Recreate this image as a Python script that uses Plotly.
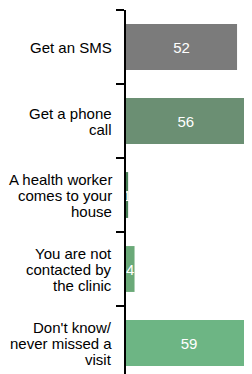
import plotly.graph_objects as go

categories = [
    "Get an SMS",
    "Get a phone call",
    "A health worker comes to your house",
    "You are not contacted by the clinic",
    "Don't know/ never missed a visit",
]
label_lines = [
    ["Get an SMS"],
    ["Get a phone", "call"],
    ["A health worker", "comes to your", "house"],
    ["You are not", "contacted by", "the clinic"],
    ["Don't know/", "never missed a", "visit"],
]
values = [52, 56, 1, 4, 59]
colors = ["#7b7b7b", "#6b8f73", "#4a8058", "#6aa978", "#6db584"]

FONT = "Liberation Sans, Arial, sans-serif"

fig = go.Figure(
    go.Bar(
        y=categories,
        x=values,
        orientation="h",
        marker=dict(color=colors, line=dict(width=0)),
        width=0.62,
        text=[str(v) for v in values],
        textposition="inside",
        insidetextanchor="middle",
        textangle=0,
        textfont=dict(color="white", size=15, family=FONT),
        cliponaxis=True,
    )
)

annotations = []
for cat, lines in zip(categories, label_lines):
    n = len(lines)
    for j, line in enumerate(lines):
        annotations.append(
            dict(
                text=line,
                xref="paper",
                x=0,
                xanchor="right",
                xshift=-12,
                yref="y",
                y=cat,
                yanchor="middle",
                yshift=((n - 1) / 2 - j) * 16,
                showarrow=False,
                font=dict(size=15, color="#000000", family=FONT),
            )
        )

# page body has an 8px margin, so the figure is sized to end at the window edge
plot_h = 364
band = 74
fig.update_layout(
    width=244,
    height=366,
    margin=dict(l=118, r=0, t=2, b=0),
    paper_bgcolor="white",
    plot_bgcolor="white",
    showlegend=False,
    annotations=annotations,
    uniformtext=dict(mode="show", minsize=15),
    font=dict(family=FONT),
)
fig.update_xaxes(visible=False, range=[0, 59])
fig.update_yaxes(
    type="category",
    categoryorder="array",
    categoryarray=categories,
    range=[-0.5 + plot_h / band, -0.5],
    showline=True,
    linecolor="black",
    linewidth=2,
    ticks="outside",
    tickson="boundaries",
    ticklen=8,
    tickwidth=2,
    tickcolor="black",
    showticklabels=False,
    showgrid=False,
    zeroline=False,
)

fig.write_html("out.html")
